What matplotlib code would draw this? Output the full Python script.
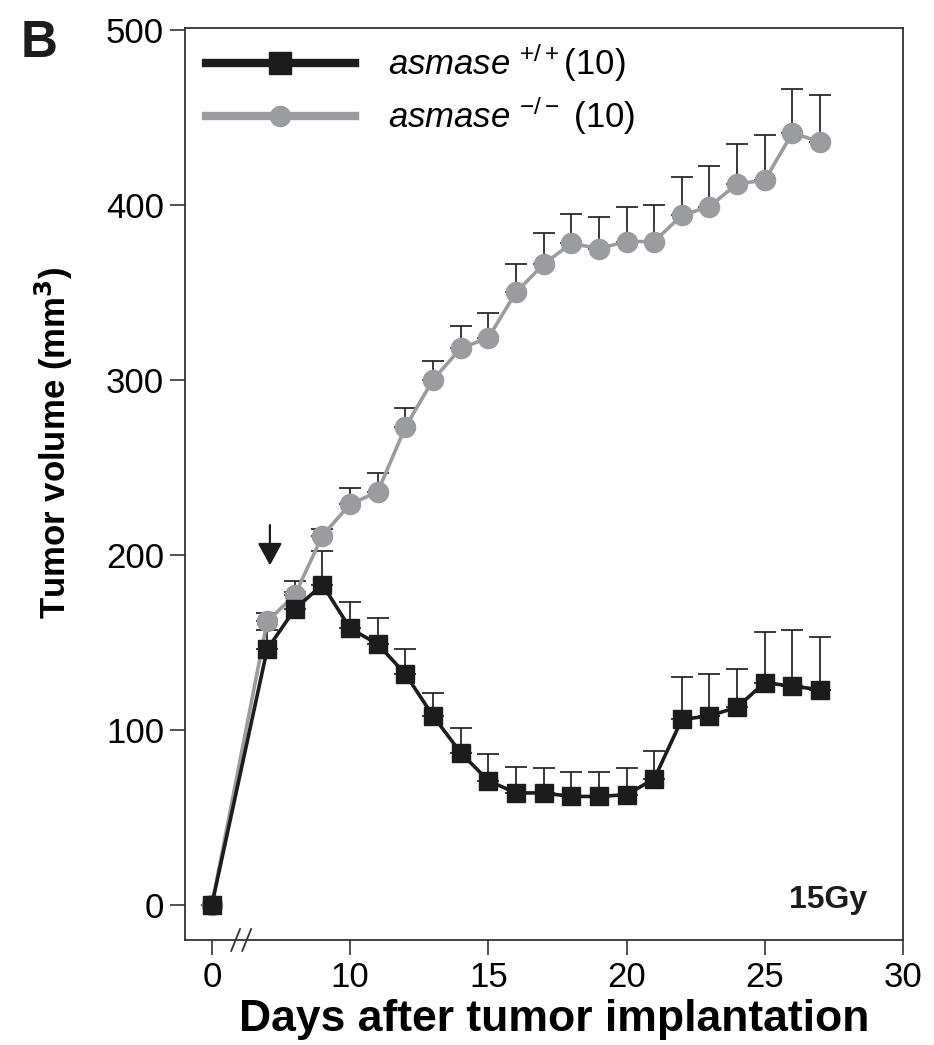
import numpy as np
import matplotlib
matplotlib.use('Agg')
import matplotlib.pyplot as plt
from matplotlib.lines import Line2D

plt.rcParams['font.family'] = ['Liberation Sans', 'DejaVu Sans']
plt.rcParams['mathtext.fontset'] = 'custom'
plt.rcParams['mathtext.rm'] = 'Liberation Sans'
plt.rcParams['mathtext.it'] = 'Liberation Sans:italic'

# data
days = [0, 7, 8, 9, 10, 11, 12, 13, 14, 15, 16, 17, 18, 19, 20, 21, 22, 23, 24, 25, 26, 27]
wt_mean = [0, 146, 169, 183, 158, 149, 132, 108, 87, 71, 64, 64, 62, 62, 63, 72, 106, 108, 113, 127, 125, 123]
wt_err = [0, 11, 10, 19, 15, 15, 14, 13, 14, 15, 15, 14, 14, 14, 15, 16, 24, 24, 22, 29, 32, 30]
ko_mean = [0, 162, 177, 211, 229, 236, 273, 300, 318, 324, 350, 366, 378, 375, 379, 379, 394, 399, 412, 414, 441, 436]
ko_err = [0, 5, 8, 4, 9, 11, 11, 11, 13, 14, 16, 18, 17, 18, 20, 21, 22, 23, 23, 26, 25, 27]
tick_labels = ['0', '10', '15', '20', '25', '30']

black = '#1c1c1c'
grey = '#9a9c9f'

# broken x axis: day 0 is drawn at position 5
def xpos(d):
    d = np.asarray(d, dtype=float)
    return np.where(d == 0, 5.0, d)

x = xpos(days)

fig = plt.figure(figsize=(9.34, 10.45), dpi=100)
ax = fig.add_axes([0.1981, 0.1005, 0.7687, 0.8727])

ax.errorbar(x, ko_mean, yerr=[np.zeros(len(ko_err)), ko_err], fmt='none',
            ecolor='#2a2a2a', elinewidth=1.3, capsize=8, capthick=1.3, zorder=2)
ax.errorbar(x, wt_mean, yerr=[np.zeros(len(wt_err)), wt_err], fmt='none',
            ecolor='#2a2a2a', elinewidth=1.3, capsize=8, capthick=1.3, zorder=2)
ax.plot(x, ko_mean, color=grey, lw=2.6, marker='o', ms=14.5, mec=grey, zorder=3)
ax.plot(x, wt_mean, color=black, lw=2.6, marker='s', ms=12.5, mec=black, zorder=4)

# irradiation arrow
ax.annotate('', xy=(7.1, 194), xytext=(7.1, 217),
            arrowprops=dict(arrowstyle='-|>,head_length=0.55,head_width=0.3',
                            color=black, lw=1.6, mutation_scale=25,
                            shrinkA=0, shrinkB=0))

ax.set_xlim(4.03, 30)
ax.set_ylim(-20, 501)
ax.set_xticks([5, 10, 15, 20, 25, 30])
ax.set_xticklabels(tick_labels)
ax.set_yticks([0, 100, 200, 300, 400, 500])
ax.tick_params(direction='out', length=11, width=1.2, labelsize=25, pad=4, color='#333333')
for sp in ax.spines.values():
    sp.set_linewidth(1.3)
    sp.set_color('#333333')

# break marks on the x axis
tr = ax.get_xaxis_transform()
for x0 in (5.7, 6.1):
    ax.plot([x0, x0 + 0.32], [-0.012, 0.012], color='#333333', lw=1.3,
            transform=tr, clip_on=False)

ax.set_xlabel('Days after tumor implantation', fontsize=32, fontweight='bold')
ax.xaxis.set_label_coords(0.514, -0.065)
ax.set_ylabel('Tumor volume (mm$^\\mathbf{3}$)', fontsize=25, fontweight='bold')
ax.yaxis.set_label_coords(-0.153, 0.545)

ax.text(0.95, 0.035, '15Gy', transform=ax.transAxes, ha='right', va='baseline',
        fontsize=23, fontweight='bold', color=black)
fig.text(0.022, 0.945, 'B', fontsize=37, fontweight='bold', color=black)

handles = [Line2D([], [], color=black, lw=6, marker='s', ms=16, mec=black),
           Line2D([], [], color=grey, lw=6, marker='o', ms=14.5, mec=grey)]
labels = [r'$\mathit{asmase}$ $^{+/+}$(10)', r'$\mathit{asmase}$ $^{-/-}$ (10)']
ax.legend(handles, labels, loc='upper left', bbox_to_anchor=(0.029, 0.985),
          frameon=False, fontsize=25, handlelength=4.3, handletextpad=0.95,
          labelspacing=0.3, borderpad=0, borderaxespad=0, numpoints=1)

fig.savefig('out.png', dpi=100)
